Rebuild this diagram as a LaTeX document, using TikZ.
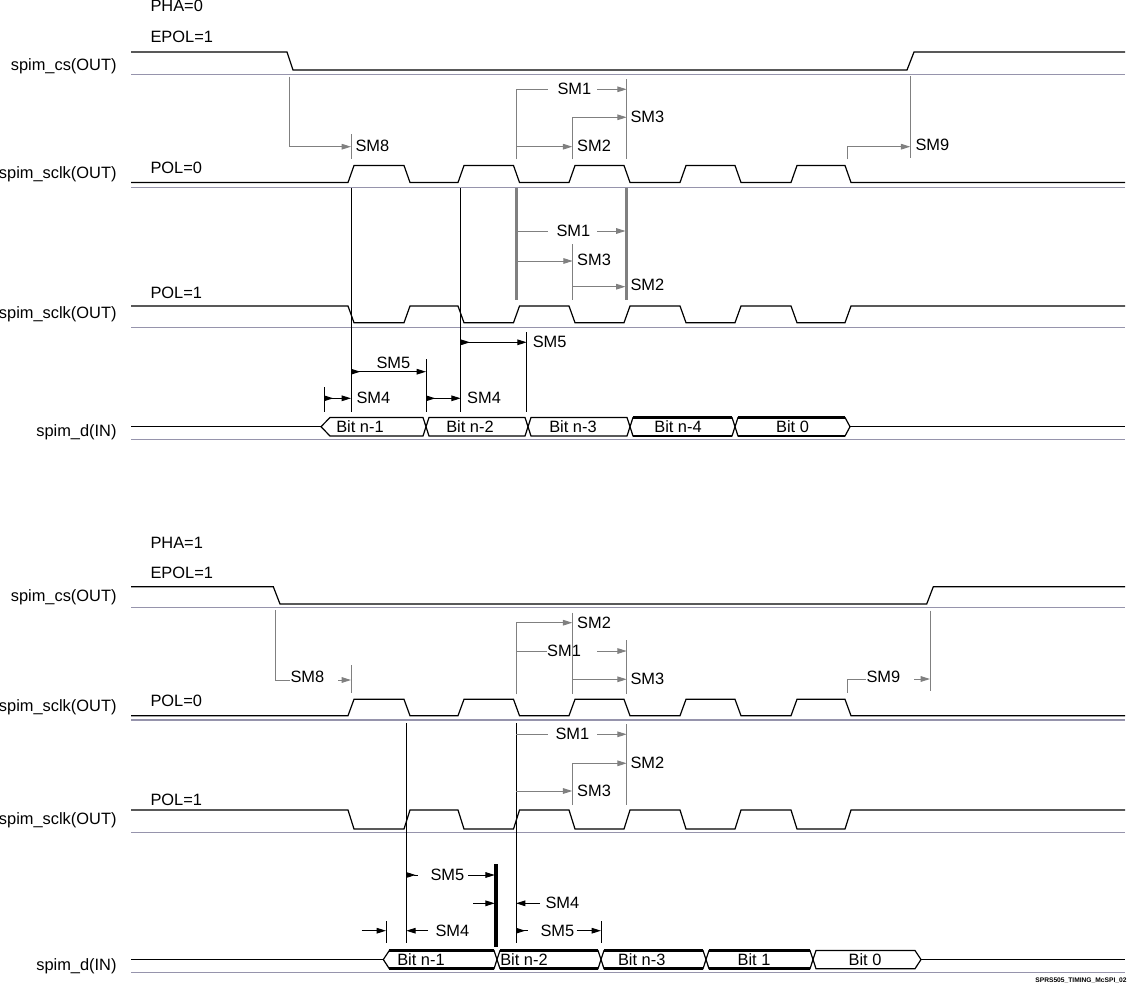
\documentclass[tikz,border=0pt]{standalone}
\usepackage{fontspec}
\setmainfont{Liberation Sans}
\usetikzlibrary{arrows.meta}
\definecolor{basegray}{RGB}{150,148,172}
\definecolor{timgray}{RGB}{128,128,128}
\tikzset{every picture/.style={line width=0.75pt}}
\tikzset{
  wave/.style={draw=black, line width=0.9pt},
  baseln/.style={draw=basegray, line width=0.9pt},
  tim/.style={draw=timgray, line width=0.75pt},
  timarr/.style={tim, -{Triangle[length=7pt,width=4.2pt]}},
  timthick/.style={draw=timgray, line width=2.2pt},
  blk/.style={draw=black, line width=0.75pt},
  blkarr/.style={blk, -{Triangle[length=7pt,width=4.2pt]}},
  blkstart/.style={blk, {Triangle[length=7pt,width=4.2pt,reversed]}-},
  blkdim/.style={blk, {Triangle[length=7pt,width=4.2pt,reversed]}-{Triangle[length=7pt,width=4.2pt]}},
  busbold/.style={draw=black, line width=2pt},
  lbl/.style={font=\fontsize{12.3}{14}\selectfont, inner sep=0pt, anchor=west},
  sig/.style={font=\fontsize{12.3}{14}\selectfont, inner sep=0pt, anchor=east},
  bit/.style={font=\fontsize{12.3}{14}\selectfont, inner sep=0pt},
  tag/.style={font=\fontsize{5}{6}\selectfont\bfseries, inner sep=0pt, anchor=east},
}

\begin{document}
\begin{tikzpicture}[x=0.75pt,y=0.75pt,yscale=-1,xscale=1]
\useasboundingbox (0,0) rectangle (1127,985);

%%%%%%%%%%%%%%%% PHA=0 %%%%%%%%%%%%%%%%

% Text Node
\node [lbl] (phaA) at (150,6) {PHA=0};
% Text Node
\node [lbl] (epolA) at (150,37) {EPOL=1};
% Text Node
\node [sig] (csA) at (117,66) {spim\_cs(OUT)};
% Text Node
\node [lbl] (polA0) at (150,167.5) {POL=0};
% Text Node
\node [sig] (sclkA0) at (117,174) {spim\_sclk(OUT)};
% Text Node
\node [lbl] (polA1) at (150,293) {POL=1};
% Text Node
\node [sig] (sclkA1) at (117,314) {spim\_sclk(OUT)};
% Text Node
\node [sig] (dA) at (117,432) {spim\_d(IN)};

%Waveform: chip select
\draw [wave] (131,52) -- (287,52) -- (293,70) -- (907,70) -- (914,52) -- (1125,52) ;
\draw [baseln] (131,74.5) -- (1125,74.5) ;
%Waveform: clock POL=0
\draw [wave] (131,182.5) -- (348,182.5) -- (354,165.5) -- (404,165.5) -- (410,182.5) -- (458,182.5) -- (464,165.5) -- (513.5,165.5) -- (519.5,182.5) -- (569,182.5) -- (575,165.5) -- (624,165.5) -- (630,182.5) -- (680,182.5) -- (686,165.5) -- (735,165.5) -- (741,182.5) -- (791,182.5) -- (797,165.5) -- (845,165.5) -- (851,182.5) -- (1125,182.5) ;
\draw [baseln] (131,187.3) -- (1125,187.3) ;
%Waveform: clock POL=1
\draw [wave] (131,306) -- (348,306) -- (354,322.7) -- (404,322.7) -- (410,306) -- (458,306) -- (464,322.7) -- (513.5,322.7) -- (519.5,306) -- (569,306) -- (575,322.7) -- (624,322.7) -- (630,306) -- (680,306) -- (686,322.7) -- (735,322.7) -- (741,306) -- (791,306) -- (797,322.7) -- (845,322.7) -- (851,306) -- (1125,306) ;
\draw [baseln] (131,327.3) -- (1125,327.3) ;
%Waveform: data in
\draw [wave] (131,426.7) -- (321,426.7) ;
\draw [wave] (321,426.7) -- (330,417.5) -- (423,417.5) -- (426,426.7) -- (423,436) -- (330,436) -- cycle ;
\draw [wave] (426,426.7) -- (429,417.5) -- (525,417.5) -- (528,426.7) -- (525,436) -- (429,436) -- cycle ;
\draw [wave] (528,426.7) -- (531,417.5) -- (627,417.5) -- (630,426.7) -- (627,436) -- (531,436) -- cycle ;
\draw [wave] (630,426.7) -- (633,417.5) -- (732,417.5) -- (735,426.7) -- (732,436) -- (633,436) -- cycle ;
\draw [busbold] (633,417.5) -- (732,417.5) (633,436) -- (732,436) ;
\draw [wave] (735,426.7) -- (738,417.5) -- (845,417.5) -- (850,426.7) -- (845,436) -- (738,436) -- cycle ;
\draw [busbold] (738,417.5) -- (845,417.5) (738,436) -- (845,436) ;
\draw [wave] (850,426.7) -- (1125,426.7) ;
\draw [baseln] (131,439.5) -- (1125,439.5) ;
% Text Node
\node [bit] (bitA1) at (360,426.7) {Bit n-1};
\node [bit] (bitA2) at (470,426.7) {Bit n-2};
\node [bit] (bitA3) at (573,426.7) {Bit n-3};
\node [bit] (bitA4) at (678,426.7) {Bit n-4};
\node [bit] (bitA0) at (792.5,426.7) {Bit 0};

%Timing: SM8
\draw [timarr] (289.3,76.7) -- (289.3,146.7) -- (351,146.7) ;
\draw [tim] (351,134) -- (351,159.3) ;
\node [lbl] (smA8) at (355,146) {SM8};
%Timing: SM1
\draw [tim] (516,159.3) -- (516,89.3) -- (548,89.3) ;
\draw [timarr] (597,89.3) -- (626.7,89.3) ;
\draw [tim] (626.7,79.3) -- (626.7,159.3) ;
\node [lbl] (smA1) at (557,89) {SM1};
%Timing: SM3
\draw [timarr] (572.3,159.3) -- (572.3,117.3) -- (626.7,117.3) ;
\node [lbl] (smA3) at (630,117.3) {SM3};
%Timing: SM2
\draw [timarr] (516,146.7) -- (572.3,146.7) ;
\node [lbl] (smA2) at (576.7,146) {SM2};
%Timing: SM9
\draw [timarr] (847.3,159.3) -- (847.3,146.7) -- (910.3,146.7) ;
\draw [tim] (910.3,76) -- (910.3,157.7) ;
\node [lbl] (smA9) at (915,145) {SM9};

%Straight Lines: clock edges
\draw [blk] (351,188) -- (351,411.7) ;
\draw [blk] (460.7,188) -- (460.7,411.7) ;
\draw [timthick] (516.7,188) -- (516.7,300) ;
\draw [timthick] (626.7,188) -- (626.7,300) ;
%Timing: SM1, SM3, SM2 (POL=1)
\draw [tim] (516.7,231) -- (548,231) ;
\draw [timarr] (597,231) -- (625.5,231) ;
\node [lbl] (smB1) at (556,231) {SM1};
\draw [timarr] (516.7,261) -- (572.7,261) ;
\draw [tim] (572.7,244) -- (572.7,300) ;
\node [lbl] (smB3) at (576.7,260) {SM3};
\draw [timarr] (572.7,286.7) -- (625.5,286.7) ;
\node [lbl] (smB2) at (630,285) {SM2};

%Timing: SM4, SM5 (data)
\draw [blk] (324,387.3) -- (324,411.7) ;
\draw [blk] (426,359.3) -- (426,411.7) ;
\draw [blk] (526.7,332) -- (526.7,411.7) ;
\draw [blkdim] (324,398.3) -- (351,398.3) ;
\node [lbl] (smA4a) at (356,398.3) {SM4};
\draw [blkdim] (426,398.3) -- (460.7,398.3) ;
\node [lbl] (smA4b) at (466.7,398.3) {SM4};
\draw [blkdim] (351,371.7) -- (426,371.7) ;
\node [lbl] (smA5a) at (376,363.3) {SM5};
\draw [blkdim] (460.7,342.3) -- (526.7,342.3) ;
\node [lbl] (smA5b) at (532.3,342.3) {SM5};

%%%%%%%%%%%%%%%% PHA=1 %%%%%%%%%%%%%%%%

% Text Node
\node [lbl] (phaB) at (150,543.3) {PHA=1};
% Text Node
\node [lbl] (epolB) at (150,573.3) {EPOL=1};
% Text Node
\node [sig] (csB) at (117,597.5) {spim\_cs(OUT)};
% Text Node
\node [lbl] (polB0) at (150,701) {POL=0};
% Text Node
\node [sig] (sclkB0) at (117,707) {spim\_sclk(OUT)};
% Text Node
\node [lbl] (polB1) at (150,800) {POL=1};
% Text Node
\node [sig] (sclkB1) at (117,820) {spim\_sclk(OUT)};
% Text Node
\node [sig] (dB) at (117,966) {spim\_d(IN)};

%Waveform: chip select
\draw [wave] (131,586.7) -- (273.3,586.7) -- (280,604) -- (926.7,604) -- (933.3,586.7) -- (1125,586.7) ;
\draw [baseln] (131,607.7) -- (1125,607.7) ;
%Waveform: clock POL=0
\draw [wave] (131,715.7) -- (348,715.7) -- (354,699.3) -- (404,699.3) -- (410,715.7) -- (458,715.7) -- (464,699.3) -- (513.5,699.3) -- (519.5,715.7) -- (569,715.7) -- (575,699.3) -- (624,699.3) -- (630,715.7) -- (680,715.7) -- (686,699.3) -- (735,699.3) -- (741,715.7) -- (791,715.7) -- (797,699.3) -- (845,699.3) -- (851,715.7) -- (1125,715.7) ;
\draw [baseln] (131,720) -- (1125,720) ;
%Waveform: clock POL=1
\draw [wave] (131,810) -- (348,810) -- (354,829) -- (404,829) -- (410,810) -- (458,810) -- (464,829) -- (513.5,829) -- (519.5,810) -- (569,810) -- (575,829) -- (624,829) -- (630,810) -- (680,810) -- (686,829) -- (735,829) -- (741,810) -- (791,810) -- (797,829) -- (845,829) -- (851,810) -- (1125,810) ;
\draw [baseln] (131,832.3) -- (1125,832.3) ;
%Waveform: data in
\draw [wave] (131,959.5) -- (383.3,959.5) ;
\draw [wave] (383.3,959.5) -- (389.3,950.5) -- (494,950.5) -- (497,959.5) -- (494,968.7) -- (389.3,968.7) -- cycle ;
\draw [busbold] (389.3,950.5) -- (494,950.5) (389.3,968.7) -- (494,968.7) ;
\draw [wave] (497,959.5) -- (500,950.5) -- (598,950.5) -- (601,959.5) -- (598,968.7) -- (500,968.7) -- cycle ;
\draw [busbold] (500,950.5) -- (598,950.5) (500,968.7) -- (598,968.7) ;
\draw [wave] (601,959.5) -- (604,950.5) -- (703,950.5) -- (706,959.5) -- (703,968.7) -- (604,968.7) -- cycle ;
\draw [busbold] (604,950.5) -- (703,950.5) (604,968.7) -- (703,968.7) ;
\draw [wave] (706,959.5) -- (709,950.5) -- (810,950.5) -- (813,959.5) -- (810,968.7) -- (709,968.7) -- cycle ;
\draw [busbold] (709,950.5) -- (810,950.5) (709,968.7) -- (810,968.7) ;
\draw [wave] (813,959.5) -- (816,950.5) -- (915,950.5) -- (921,959.5) -- (915,968.7) -- (816,968.7) -- cycle ;
\draw [wave] (921,959.5) -- (1125,959.5) ;
\draw [baseln] (131,972.7) -- (1125,972.7) ;
% Text Node
\node [bit] (bitB1) at (421,959.5) {Bit n-1};
\node [bit] (bitB2) at (524,959.5) {Bit n-2};
\node [bit] (bitB3) at (641.7,959.5) {Bit n-3};
\node [bit] (bitB4) at (754,959.5) {Bit 1};
\node [bit] (bitB0) at (865,959.5) {Bit 0};

%Timing: SM8
\draw [tim] (275,610) -- (275,680) -- (290,680) ;
\node [lbl] (smC8) at (290,676.7) {SM8};
\draw [timarr] (338,680) -- (351,680) ;
\draw [tim] (351,665) -- (351,693.3) ;
%Timing: SM2
\draw [timarr] (516,694.3) -- (516,622.7) -- (572.3,622.7) ;
\draw [tim] (572.3,612.7) -- (572.3,694.3) ;
\node [lbl] (smC2) at (576.7,622.7) {SM2};
%Timing: SM1
\draw [tim] (516,651) -- (546.7,651) ;
\node [lbl] (smC1) at (546.7,651) {SM1};
\draw [timarr] (597,651) -- (626.7,651) ;
\draw [tim] (626.7,640) -- (626.7,694.3) ;
%Timing: SM3
\draw [timarr] (572.3,679.3) -- (626.7,679.3) ;
\node [lbl] (smC3) at (630,679.3) {SM3};
%Timing: SM9
\draw [tim] (847.3,692.7) -- (847.3,679) -- (865.7,679) ;
\node [lbl] (smC9) at (866,677.3) {SM9};
\draw [timarr] (914,679) -- (930,679) ;
\draw [tim] (930,610.7) -- (930,690.7) ;

%Straight Lines: clock edges
\draw [blk] (406.3,723.3) -- (406.3,943.3) ;
\draw [blk] (516,723.3) -- (516,943.3) ;
\draw [tim] (626.7,724) -- (626.7,805) ;
%Timing: SM1, SM2, SM3 (POL=1)
\draw [tim] (516,734.3) -- (548,734.3) ;
\node [lbl] (smD1) at (555,734.3) {SM1};
\draw [timarr] (597,734.3) -- (626.7,734.3) ;
\draw [timarr] (572.3,805) -- (572.3,763.3) -- (626.7,763.3) ;
\node [lbl] (smD2) at (630,763.3) {SM2};
\draw [timarr] (516,791) -- (572.3,791) ;
\node [lbl] (smD3) at (576.7,791) {SM3};

%Timing: SM4, SM5 (data)
\draw [busbold, line width=2.4pt] (496,864) -- (496,946.7) ;
\draw [blk] (386,921) -- (386,943.3) ;
\draw [blk] (601,921) -- (601,943.3) ;
\draw [blkstart] (406.3,875) -- (418,875) ;
\node [lbl] (smC5a) at (430,875) {SM5};
\draw [blkarr] (468.3,875) -- (494.8,875) ;
\draw [blkarr] (473.3,903.3) -- (494.8,903.3) ;
\draw [blkarr] (540,903.3) -- (516,903.3) ;
\node [lbl] (smC4a) at (545,903.3) {SM4};
\draw [blkarr] (361.7,930.7) -- (386,930.7) ;
\draw [blkarr] (428,930.7) -- (406.3,930.7) ;
\node [lbl] (smC4b) at (435,930.7) {SM4};
\draw [blkstart] (516,930.7) -- (528,930.7) ;
\node [lbl] (smC5b) at (540,930.7) {SM5};
\draw [blkarr] (576.7,930.7) -- (601,930.7) ;

% Text Node
\node [tag] (figtag) at (1127,981) {SPRS505\_TIMING\_McSPI\_02};

\end{tikzpicture}
\end{document}
